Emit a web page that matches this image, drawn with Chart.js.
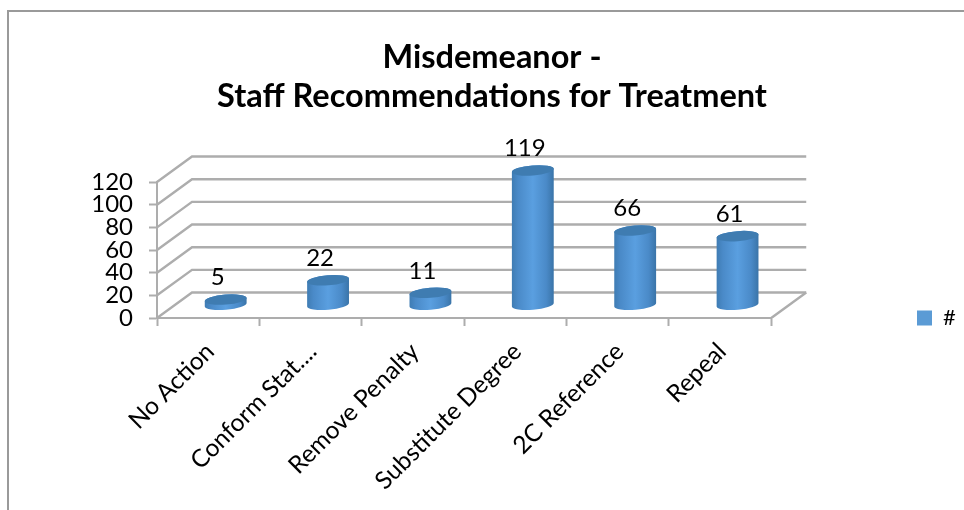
<!DOCTYPE html>
<html>
<head>
<meta charset="utf-8">
<title>Misdemeanor - Staff Recommendations for Treatment</title>
<script src="https://cdn.jsdelivr.net/npm/chart.js@4"></script>
<style>
  html,body{margin:0;padding:0;background:#fff}
  canvas{display:block}
</style>
</head>
<body>
<canvas id="chart" width="964" height="510"></canvas>
<script>
const titleLines = ['Misdemeanor -', 'Staff Recommendations for Treatment'];
const categories = ['No Action', 'Conform Stat....', 'Remove Penalty', 'Substitute Degree', '2C Reference', 'Repeal'];
const seriesName = '#';
const values = [5, 22, 11, 119, 66, 61];

const BLUE = '#5b9bd5', GRID = '#adadad', FONT = 'Lato, "Open Sans", sans-serif';
const DX = 35, DY = 25.5;   // depth of the fake 3d box

// floor, back wall and the side wall lines
function drawBox(chart){
  const {ctx, chartArea:a, scales:{y}} = chart;
  ctx.save();
  ctx.strokeStyle = GRID; ctx.lineWidth = 2.4;
  y.ticks.forEach(t=>{
    const py = y.getPixelForValue(t.value);
    ctx.beginPath();
    ctx.moveTo(a.left, py);
    ctx.lineTo(a.left+DX, py-DY);
    ctx.lineTo(a.right+DX, py-DY);
    ctx.stroke();
  });
  ctx.beginPath();
  ctx.moveTo(a.right, y.getPixelForValue(0));
  ctx.lineTo(a.right+DX, y.getPixelForValue(0)-DY);
  ctx.stroke();
  ctx.restore();
}

function drawCylinder(ctx, el){
  const rx = el.width/2, ry = 5, rot = -0.08;
  const cx = el.x + DX/2, top = el.y - DY/2, base = el.base - DY/2;
  const g = ctx.createLinearGradient(cx-rx, 0, cx+rx, 0);
  g.addColorStop(0, '#3f7cb3');
  g.addColorStop(0.15, '#4a8ac8');
  g.addColorStop(0.5, '#5a9fe0');
  g.addColorStop(0.82, '#4a8ac8');
  g.addColorStop(1, '#3a74a8');
  ctx.beginPath();
  ctx.ellipse(cx, base, rx, ry, rot, 0, Math.PI);
  ctx.ellipse(cx, top, rx, ry, rot, Math.PI, Math.PI*2);
  ctx.closePath();
  ctx.fillStyle = g;
  ctx.fill();
  ctx.beginPath();
  ctx.ellipse(cx, top, rx, ry, rot, 0, Math.PI*2);
  ctx.fillStyle = '#3f7cb1';
  ctx.fill();
}

const box3d = {
  id:'box3d',
  afterLayout(chart){
    // legend sits low on the right, title is centred on the whole frame
    const lg = chart.legend, h = lg.bottom-lg.top, w = lg.right-lg.left;
    lg.left = 907; lg.right = 907+w;
    lg.top = 297; lg.bottom = 297+h;
    chart.titleBlock.left = 20; chart.titleBlock.right = 964;
  },
  beforeDraw(chart){
    const {ctx} = chart;
    ctx.save();
    ctx.strokeStyle = '#9a9a9a'; ctx.lineWidth = 2;
    ctx.beginPath();
    ctx.moveTo(8, 510); ctx.lineTo(8, 11); ctx.lineTo(964, 11);
    ctx.stroke();
    ctx.restore();
  },
  beforeDatasetsDraw(chart){ drawBox(chart); },
  beforeDatasetDraw(chart, args){
    const {ctx} = chart;
    const points = args.meta.data;
    ctx.save();
    points.forEach(el=>drawCylinder(ctx, el));
    ctx.fillStyle = '#000';
    ctx.font = '24px '+FONT;
    ctx.textAlign = 'center'; ctx.textBaseline = 'middle';
    points.forEach((el,i)=>{
      ctx.fillText(values[i], el.x+DX/2-8, el.y-DY/2-22);
    });
    ctx.restore();
    return false;
  }
};

new Chart(document.getElementById('chart'), {
  type:'bar',
  data:{labels:categories, datasets:[{label:seriesName, data:values, backgroundColor:BLUE, barPercentage:0.41, categoryPercentage:1}]},
  options:{
    responsive:false, animation:false,
    layout:{padding:{left:20, right:134, top:0, bottom:2}},
    plugins:{
      tooltip:{enabled:false},
      title:{display:true, text:titleLines, color:'#000', font:{family:FONT, size:32.5, weight:'bold', lineHeight:1.17}, padding:{top:39, bottom:67}},
      legend:{position:'right', align:'start', labels:{boxWidth:15, boxHeight:15, color:'#000', font:{family:FONT, size:22}}}
    },
    scales:{
      x:{
        grid:{drawOnChartArea:false, tickLength:8, tickColor:GRID, tickWidth:2, offset:true},
        border:{color:GRID, width:2},
        ticks:{color:'#000', font:{family:FONT, size:24.5}, maxRotation:45, minRotation:45, autoSkip:false, padding:11, labelOffset:2},
        afterFit(s){ s.height = 190; s.paddingLeft = 0; s.paddingRight = 0; }
      },
      y:{
        min:0, max:120,
        grid:{drawOnChartArea:false, tickLength:8, tickColor:GRID, tickWidth:2},
        border:{color:GRID, width:2},
        ticks:{color:'#000', font:{family:FONT, size:24}, stepSize:20, autoSkip:false, padding:16},
        afterFit(s){ s.width = 137; }
      }
    }
  },
  plugins:[box3d]
});
</script>
</body>
</html>
